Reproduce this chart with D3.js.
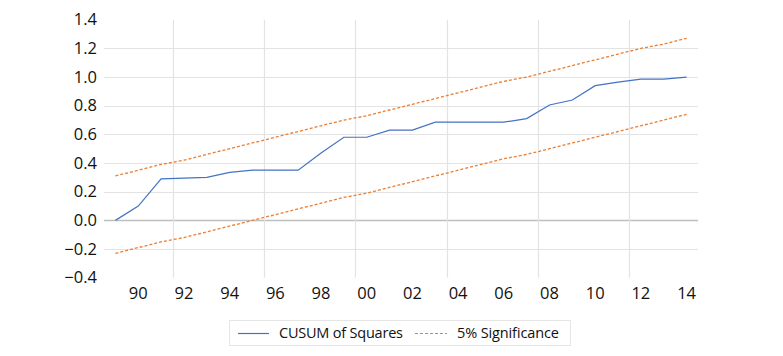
<!DOCTYPE html>
<html>
<head>
<meta charset="utf-8">
<script src="https://cdn.jsdelivr.net/npm/d3@7"></script>
<style>
  body { margin: 0; background: #fff; }
  svg text { font-family: "Open Sans", "Noto Sans", sans-serif; fill: #111; }
</style>
</head>
<body>
<div id="chart"></div>
<script>
// Data
const years = d3.range(1989, 2015);
const cusum = [0.00, 0.10, 0.29, 0.295, 0.30, 0.335, 0.35, 0.35, 0.35, 0.47, 0.58, 0.58, 0.63, 0.63,
  0.685, 0.685, 0.685, 0.685, 0.71, 0.805, 0.84, 0.94, 0.965, 0.985, 0.985, 1.00];
const upper = [0.31, 0.35, 0.39, 0.42, 0.46, 0.50, 0.54, 0.58, 0.62, 0.66, 0.70, 0.73, 0.77, 0.81,
  0.85, 0.89, 0.93, 0.97, 1.00, 1.04, 1.08, 1.12, 1.16, 1.20, 1.23, 1.27];
const lower = [-0.23, -0.19, -0.15, -0.12, -0.08, -0.04, 0.00, 0.04, 0.08, 0.12, 0.16, 0.19, 0.23, 0.27,
  0.31, 0.35, 0.39, 0.43, 0.46, 0.50, 0.54, 0.58, 0.62, 0.66, 0.70, 0.74];
const yTicks = [-0.4, -0.2, 0, 0.2, 0.4, 0.6, 0.8, 1.0, 1.2, 1.4];
const xLabelYears = d3.range(1990, 2015, 2);
const gridYears = [1992, 1996, 2000, 2004, 2008, 2012];
const seriesNames = ["CUSUM of Squares", "5% Significance"];

const width = 783, height = 356;
const blue = "#4472c4", orange = "#ed7d31";

const svg = d3.select("#chart").append("svg")
  .attr("width", width)
  .attr("height", height);

const x = d3.scalePoint().domain(years).range([104, 698]).padding(0.5);
const step = x.step();
const y = d3.scaleLinear().domain([-0.4, 1.4]).range([277.7, 19.7]);

// Gridlines
svg.append("g")
  .selectAll("line")
  .data(yTicks.filter(d => d > -0.4 && d < 1.4))
  .join("line")
  .attr("x1", 104).attr("x2", 698)
  .attr("y1", d => Math.round(y(d)) + 0.5).attr("y2", d => Math.round(y(d)) + 0.5)
  .attr("stroke", d => d === 0 ? "#bfbfbf" : "#e3e3e3")
  .attr("stroke-width", d => d === 0 ? 1.5 : 1.2);

svg.append("g")
  .selectAll("line")
  .data(gridYears)
  .join("line")
  .attr("x1", d => Math.round(x(d) - step / 2) + 0.5)
  .attr("x2", d => Math.round(x(d) - step / 2) + 0.5)
  .attr("y1", y(1.4)).attr("y2", y(-0.4))
  .attr("stroke", "#e3e3e3")
  .attr("stroke-width", 1.2);

// Y labels
svg.append("g")
  .selectAll("text")
  .data(yTicks)
  .join("text")
  .attr("x", 97)
  .attr("y", d => y(d))
  .attr("dy", "0.35em")
  .attr("text-anchor", "end")
  .style("font-size", "16.5px")
  .text(d => d3.format(".1f")(d));

// X labels
svg.append("g")
  .selectAll("text")
  .data(xLabelYears)
  .join("text")
  .attr("x", d => x(d))
  .attr("y", 293)
  .attr("dy", "0.35em")
  .attr("text-anchor", "middle")
  .style("font-size", "16.5px")
  .text(d => String(d).slice(2));

// Lines
const line = d3.line().x((d, i) => x(years[i])).y(d => y(d));

svg.append("path")
  .attr("d", line(upper))
  .attr("fill", "none")
  .attr("stroke", orange)
  .attr("stroke-width", 1.3)
  .attr("stroke-dasharray", "3,2");

svg.append("path")
  .attr("d", line(lower))
  .attr("fill", "none")
  .attr("stroke", orange)
  .attr("stroke-width", 1.3)
  .attr("stroke-dasharray", "3,2");

svg.append("path")
  .attr("d", line(cusum))
  .attr("fill", "none")
  .attr("stroke", blue)
  .attr("stroke-width", 1.2);

// Legend
const legend = svg.append("g");
legend.append("rect")
  .attr("x", 229.5).attr("y", 320.5)
  .attr("width", 341).attr("height", 25)
  .attr("fill", "#fff")
  .attr("stroke", "#e6e6e6");

legend.append("line")
  .attr("x1", 238).attr("x2", 269).attr("y1", 333.5).attr("y2", 333.5)
  .attr("stroke", blue).attr("stroke-width", 1.2);
legend.append("text")
  .attr("x", 279).attr("y", 333).attr("dy", "0.35em")
  .attr("textLength", 124)
  .style("font-size", "14.5px")
  .text(seriesNames[0]);

legend.append("line")
  .attr("x1", 415).attr("x2", 447).attr("y1", 333.5).attr("y2", 333.5)
  .attr("stroke", orange).attr("stroke-width", 1.2)
  .attr("stroke-dasharray", "3,2");
legend.append("text")
  .attr("x", 457).attr("y", 333).attr("dy", "0.35em")
  .attr("textLength", 102)
  .style("font-size", "14.5px")
  .text(seriesNames[1]);
</script>
</body>
</html>
